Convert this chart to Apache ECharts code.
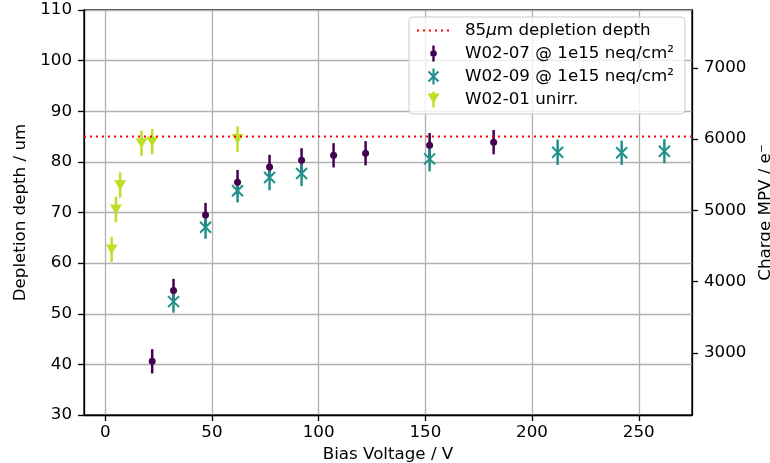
<!DOCTYPE html>
<html>
<head>
<meta charset="utf-8">
<script src="https://cdn.jsdelivr.net/npm/echarts@6/dist/echarts.min.js"></script>
<style>
html,body{margin:0;padding:0;background:#fff;}
#main{width:770px;height:463px;}
</style>
</head>
<body>
<div id="main"></div>
<script>
// ---- data ----
const lineName = '85μm depletion depth';
const name07 = 'W02-07 @ 1e15 neq/cm²';
const name09 = 'W02-09 @ 1e15 neq/cm²';
const name01 = 'W02-01 unirr.';

const depletionDepth = 85;

const volt07 = [22, 32, 47, 62, 77, 92, 107, 122, 152, 182];
const depth07 = [40.6, 54.6, 69.5, 76.0, 79.0, 80.3, 81.3, 81.7, 83.3, 83.9];
const err07 = [2.4, 2.3, 2.4, 2.4, 2.4, 2.4, 2.4, 2.4, 2.4, 2.4];

const volt09 = [32, 47, 62, 77, 92, 152, 212, 242, 262];
const depth09 = [52.4, 67.1, 74.3, 76.9, 77.7, 80.6, 81.9, 81.8, 82.1];
const err09 = [2.2, 2.3, 2.3, 2.5, 2.5, 2.5, 2.5, 2.4, 2.4];

const volt01 = [3, 5, 7, 17, 22, 62];
const depth01 = [62.7, 70.6, 75.4, 83.7, 84.0, 84.5];
const err01 = [2.5, 2.5, 2.5, 2.5, 2.5, 2.5];

const xTicks = [0, 50, 100, 150, 200, 250];
const chargeTicks = [3000, 4000, 5000, 6000, 7000];
const xMin = -9.95, xMax = 274.95;
const yMin = 30, yMax = 110, yStep = 10;
const chargePerUm = 71;

// ---- styles ----
const FONT = 'DejaVu Sans';
const FS = 16.7;
const C07 = '#440154', C09 = '#21918c', C01 = '#bddf26', CRED = '#ff0000';

const corners = 'M0,0h0.01v0.01z M43,16h-0.01v-0.01z ';
const iconLine = 'path://' + corners + 'M0,7h2v2h-2z M6,7h2v2h-2z M12,7h2v2h-2z M18,7h2v2h-2z M24,7h2v2h-2z M30,7h2v2h-2z';
const iconDot = 'path://' + corners + 'M15.3,0H17.7V16H15.3Z M16.5,4.7A3.3,3.3 0 1 1 16.5,11.3A3.3,3.3 0 1 1 16.5,4.7Z';
const iconX = 'path://' + corners + 'M15.4,0H17.6V16H15.4Z M10.79,3.71L12.21,2.29L22.21,12.29L20.79,13.71Z M20.79,2.29L22.21,3.71L12.21,13.71L10.79,12.29Z';
const iconTri = 'path://' + corners + 'M15.3,0H17.7V16H15.3Z M10.5,2L22.5,2L16.5,12Z';

function zip3(a, b, c) { return a.map((v, i) => [v, b[i], c[i]]); }
function zip2(a, b) { return a.map((v, i) => [v, b[i]]); }

function errSeries(name, volts, depths, errs, color) {
  return {
    name: name, type: 'custom', data: zip3(volts, depths, errs),
    encode: { x: 0, y: 1 },
    renderItem: function (params, api) {
      const x = api.value(0), y = api.value(1), e = api.value(2);
      const p1 = api.coord([x, y + e]);
      const p2 = api.coord([x, y - e]);
      return { type: 'line', shape: { x1: p1[0], y1: p1[1], x2: p2[0], y2: p2[1] },
               style: { stroke: color, lineWidth: 2.5 } };
    },
    silent: true
  };
}

const chart = echarts.init(document.getElementById('main'), null, { renderer: 'canvas' });

const axisTextStyle = { fontFamily: FONT, fontSize: FS, color: '#000' };

const option = {
  animation: false,
  backgroundColor: '#fff',
  textStyle: { fontFamily: FONT },
  grid: { left: 84, right: 78, top: 10, bottom: 48, containLabel: false, outerBoundsMode: 'none',
          show: true, borderColor: '#000', borderWidth: 1.3, backgroundColor: 'transparent' },
  xAxis: {
    type: 'value', min: xMin, max: xMax,
    name: 'Bias Voltage / V', nameLocation: 'middle', nameGap: 27,
    nameTextStyle: axisTextStyle,
    axisLine: { show: true, onZero: false, lineStyle: { color: '#000', width: 1.3 } },
    axisTick: { show: true, customValues: xTicks, length: 6, lineStyle: { color: '#000', width: 1.3 } },
    axisLabel: { customValues: xTicks, margin: 9, ...axisTextStyle },
    splitLine: { show: true, lineStyle: { color: '#b0b0b0', width: 1.3 } }
  },
  yAxis: [
    {
      type: 'value', min: yMin, max: yMax, interval: yStep, position: 'left',
      name: 'Depletion depth / um', nameLocation: 'middle', nameGap: 51,
      nameTextStyle: axisTextStyle,
      axisLine: { show: true, onZero: false, lineStyle: { color: '#000', width: 1.3 } },
      axisTick: { show: true, length: 6, lineStyle: { color: '#000', width: 1.3 } },
      axisLabel: { margin: 12, ...axisTextStyle },
      splitLine: { show: true, lineStyle: { color: '#b0b0b0', width: 1.3 } }
    },
    {
      type: 'value', min: yMin * chargePerUm, max: yMax * chargePerUm, position: 'right',
      name: 'Charge MPV / e⁻', nameLocation: 'middle', nameGap: 59,
      nameTextStyle: axisTextStyle,
      axisLine: { show: true, onZero: false, lineStyle: { color: '#000', width: 1.3 } },
      axisTick: { show: true, customValues: chargeTicks, length: 6, lineStyle: { color: '#000', width: 1.3 } },
      axisLabel: { customValues: chargeTicks, margin: 12, formatter: function (v) { return String(v); }, ...axisTextStyle },
      splitLine: { show: false }
    }
  ],
  legend: {
    orient: 'vertical', left: 409, top: 17,
    padding: [5, 11, 6, 8], itemGap: 6, itemWidth: 43, itemHeight: 16,
    backgroundColor: 'rgba(255,255,255,0.8)', borderColor: '#cccccc', borderWidth: 1, borderRadius: 4,
    textStyle: { fontFamily: FONT, fontSize: FS, color: '#000', rich: { i: { fontFamily: FONT, fontSize: FS, fontStyle: 'italic', color: '#000' } } },
    formatter: function (n) { return n === lineName ? '85{i|μ}m depletion depth' : n; },
    selectedMode: false,
    data: [
      { name: lineName, icon: iconLine, itemStyle: { color: CRED, borderWidth: 0 } },
      { name: name07, icon: iconDot, itemStyle: { color: C07, borderWidth: 0 } },
      { name: name09, icon: iconX, itemStyle: { color: C09, borderWidth: 0 } },
      { name: name01, icon: iconTri, itemStyle: { color: C01, borderWidth: 0 } }
    ]
  },
  series: [
    {
      name: lineName, type: 'line', data: [[xMin, depletionDepth], [xMax, depletionDepth]],
      symbol: 'none', silent: true,
      itemStyle: { color: CRED },
      lineStyle: { color: CRED, width: 2, type: [2, 4], cap: 'butt' }
    },
    errSeries('err07', volt07, depth07, err07, C07),
    {
      name: name07, type: 'scatter', data: zip2(volt07, depth07),
      symbol: 'circle', symbolSize: 7, itemStyle: { color: C07, opacity: 1 }
    },
    errSeries('err09', volt09, depth09, err09, C09),
    {
      name: name09, type: 'scatter', data: zip2(volt09, depth09),
      symbol: 'path://M0,0L1,1M1,0L0,1', symbolSize: 11,
      itemStyle: { color: 'none', borderColor: C09, borderWidth: 2, opacity: 1 }
    },
    errSeries('err01', volt01, depth01, err01, C01),
    {
      name: name01, type: 'scatter', data: zip2(volt01, depth01),
      symbol: 'triangle', symbolRotate: 180, symbolSize: [12, 10],
      itemStyle: { color: C01, opacity: 1 }
    }
  ]
};
chart.setOption(option);
</script>
</body>
</html>
